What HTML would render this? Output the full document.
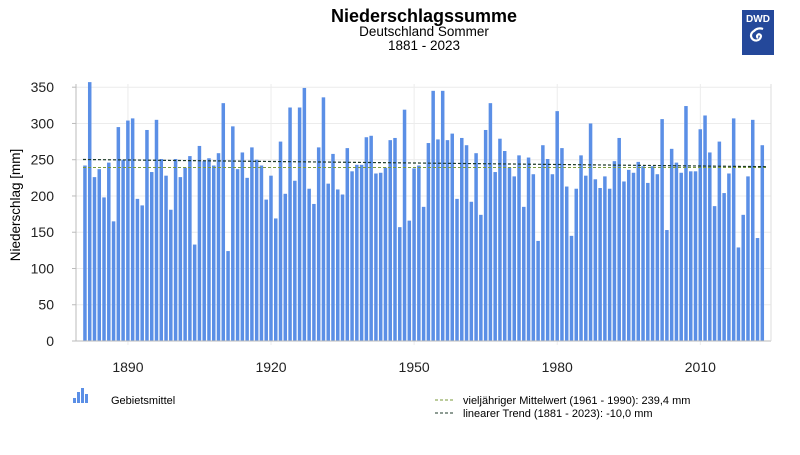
<!DOCTYPE html>
<html><head><meta charset="utf-8"><style>
body{margin:0;background:#fff;width:800px;height:450px;overflow:hidden;font-family:"Liberation Sans",sans-serif}
</style></head><body>
<svg id="s" width="800" height="450" xmlns="http://www.w3.org/2000/svg" font-family="Liberation Sans, sans-serif">
<text x="424" y="22" text-anchor="middle" font-size="18" font-weight="bold">Niederschlagssumme</text>
<text x="424" y="36" text-anchor="middle" font-size="13.5">Deutschland Sommer</text>
<text x="424" y="50" text-anchor="middle" font-size="13.5">1881 - 2023</text>
<rect x="742" y="10" width="32" height="45" fill="#24489a"/>
<text x="758" y="22" text-anchor="middle" font-size="10" font-weight="bold" fill="#fff">DWD</text>
<path d="M758 38 a2 2 0 1 1 3 -2 a5 5 0 1 1 -7 -5 a8 8 0 0 1 9 -2" fill="none" stroke="#fff" stroke-width="2.2"/>
<g id="grid" stroke="#ececec" stroke-width="1"></g>
<g id="bars" fill="#5b8fe6"></g>
<line x1="76" y1="341" x2="771" y2="341" stroke="#bbb"/>
<line x1="76" y1="84" x2="76" y2="341" stroke="#bbb"/>
<line x1="771" y1="84" x2="771" y2="341" stroke="#ddd"/>
<g id="lab" font-size="14" fill="#222"></g>
<line x1="83" y1="167.5" x2="767" y2="167.5" stroke="#7a9a3a" stroke-width="1" stroke-dasharray="3,2"/>
<line x1="83" y1="159.5" x2="767" y2="166.7" stroke="#1d3a2a" stroke-width="1.2" stroke-dasharray="3,2"/>
<text transform="translate(20,205) rotate(-90)" text-anchor="middle" font-size="13.5">Niederschlag [mm]</text>
<rect x="73" y="398" width="3" height="5" fill="#5b8fe6"/>
<rect x="77" y="392" width="3" height="11" fill="#5b8fe6"/>
<rect x="81" y="388" width="3" height="15" fill="#5b8fe6"/>
<rect x="85" y="394" width="3" height="9" fill="#5b8fe6"/>
<text x="111" y="404" font-size="11">Gebietsmittel</text>
<line x1="435" y1="400" x2="455" y2="400" stroke="#7a9a3a" stroke-dasharray="3,2"/>
<line x1="435" y1="413" x2="455" y2="413" stroke="#1d3a2a" stroke-dasharray="3,2"/>
<text x="463" y="404" font-size="11">vieljähriger Mittelwert (1961 - 1990): 239,4 mm</text>
<text x="463" y="417" font-size="11">linearer Trend (1881 - 2023): -10,0 mm</text>
</svg>
<script>
var v=[242,357,226,237,198,246,165,295,250,304,307,196,187,291,233,305,251,228,181,251,226,239,255,133,269,248,252,242,259,328,124,296,237,260,225,267,250,242,195,228,169,275,203,322,221,322,349,210,189,267,336,217,258,209,202,266,234,243,243,281,283,231,232,239,277,280,157,319,166,238,242,185,273,345,278,345,277,286,196,280,270,192,259,174,291,328,233,279,262,239,227,256,185,253,230,138,270,251,230,317,266,213,145,210,256,228,300,223,211,227,210,248,280,220,236,232,247,241,218,241,230,306,153,265,246,232,324,234,234,292,311,260,186,275,204,231,307,129,174,227,305,142,270];
var NS="http://www.w3.org/2000/svg";
function el(t,a,p,txt){var e=document.createElementNS(NS,t);for(var k in a)e.setAttribute(k,a[k]);if(txt!==undefined)e.textContent=txt;document.getElementById(p).appendChild(e);}
var k=253.8/350;
for(var i=0;i<v.length;i++){var h=v[i]*k;el('rect',{x:(85+i*4.77-1.8).toFixed(2),y:(341-h).toFixed(2),width:3.5,height:h.toFixed(2)},'bars');}
for(var j=0;j<=7;j++){var y=341-j*50*k;if(j>0)el('line',{x1:76,x2:771,y1:y,y2:y},'grid');el('line',{x1:72,x2:76,y1:y,y2:y,stroke:'#bbb'},'grid');el('text',{x:54,y:y+5,'text-anchor':'end'},'lab',String(j*50));}
[1890,1920,1950,1980,2010].forEach(function(yr){var x=85+(yr-1881)*4.77;el('line',{x1:x,x2:x,y1:84,y2:345},'grid');el('text',{x:x,y:372,'text-anchor':'middle'},'lab',String(yr));});
</script>
</body></html>
